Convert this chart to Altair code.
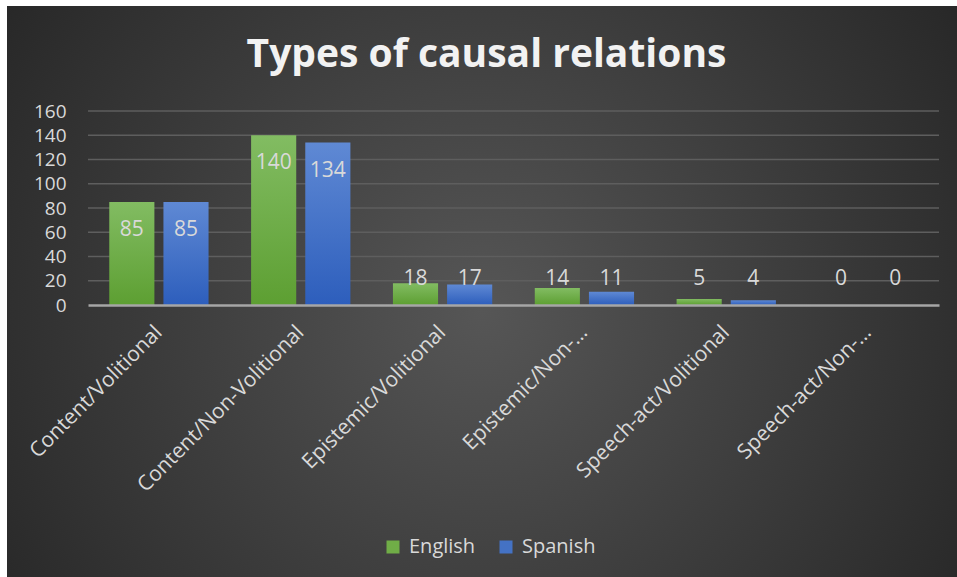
import altair as alt
import pandas as pd

categories = ["Content/Volitional", "Content/Non-Volitional", "Epistemic/Volitional",
              "Epistemic/Non-Volitional", "Speech-act/Volitional", "Speech-act/Non-Volitional"]
tick_labels = ["Content/Volitional", "Content/Non-Volitional", "Epistemic/Volitional",
               "Epistemic/Non-…", "Speech-act/Volitional", "Speech-act/Non-…"]
langs = ["English", "Spanish"]
english = [85, 140, 18, 14, 5, 0]
spanish = [85, 134, 17, 11, 4, 0]
y_ticks = [0, 20, 40, 60, 80, 100, 120, 140, 160]

rows = []
for c, e, s in zip(categories, english, spanish):
    rows.append({"category": c, "lang": "English", "value": e})
    rows.append({"category": c, "lang": "Spanish", "value": s})
df = pd.DataFrame(rows)

W, H = 851, 194
PAD = {"left": 88, "top": 111, "right": 18, "bottom": 272}
FONT = "Open Sans"
TXT = "#d9d9d9"

green_grad = {"gradient": "linear", "x1": 0, "y1": 0, "x2": 0, "y2": 1,
              "stops": [{"offset": 0, "color": "#82bc62"}, {"offset": 1, "color": "#5d9f32"}]}
blue_grad = {"gradient": "linear", "x1": 0, "y1": 0, "x2": 0, "y2": 1,
             "stops": [{"offset": 0, "color": "#5f89d4"}, {"offset": 1, "color": "#2d5ebc"}]}
bg_grad = {"gradient": "radial", "x1": 0.5, "y1": 0.52, "r1": 0, "x2": 0.5, "y2": 0.52, "r2": 0.62,
           "stops": [{"offset": 0, "color": "#565656"}, {"offset": 1, "color": "#262626"}]}

label_map = {c: t for c, t in zip(categories, tick_labels)}
label_expr = " : ".join([f"datum.label === '{c}' ? '{t}'" for c, t in label_map.items()]) + " : datum.label"

x_enc = alt.X("category:N", sort=categories, title=None,
              scale=alt.Scale(paddingInner=0.3, paddingOuter=0.15),
              axis=alt.Axis(labelAngle=-45, labelAlign="right", labelBaseline="middle",
                            labelFontSize=21, labelColor=TXT, labelFont=FONT, labelPadding=24,
                            labelExpr=label_expr, labelLimit=400, labelOverlap=False,
                            ticks=False, domainColor="#a6a6a6", domainWidth=2.5, zindex=1))
xoff = alt.XOffset("lang:N", sort=langs, scale=alt.Scale(paddingInner=0.167, paddingOuter=0))
y_scale = alt.Scale(domain=[0, 160], nice=False)
y_axis = alt.Axis(values=y_ticks, grid=False, ticks=False, domain=False, labelOverlap=False,
                  labelFontSize=19, labelColor=TXT, labelFont=FONT, labelPadding=22, zindex=1)

background = alt.Chart(alt.Data(values=[{}])).mark_rect(fill=bg_grad).encode(
    x=alt.value(-81), x2=alt.value(W + PAD["right"]),
    y=alt.value(-105), y2=alt.value(H + PAD["bottom"]),
)

grid = alt.Chart(pd.DataFrame({"tick": y_ticks[1:]})).mark_rule(color="#5e5e5e", strokeWidth=1.3).encode(
    y=alt.Y("tick:Q", scale=y_scale, title=None, axis=y_axis),
    x=alt.value(0), x2=alt.value(W),
)

bars = alt.Chart(df).mark_bar().encode(
    x=x_enc,
    xOffset=xoff,
    y=alt.Y("value:Q", scale=y_scale, title=None, axis=y_axis),
    fill=alt.Fill("lang:N", sort=langs,
                  scale=alt.Scale(domain=langs, range=["#70ad47", "#4472c4"]),
                  legend=alt.Legend(title=None, orient="none", legendX=295, legendY=426,
                                    direction="horizontal", symbolType="square", symbolSize=169,
                                    symbolStrokeWidth=0, labelFontSize=20, labelColor=TXT,
                                    labelFont=FONT, columnPadding=20, labelOffset=6),
                  condition=[{"test": "datum.lang === 'English'", "value": green_grad},
                             {"test": "datum.lang === 'Spanish'", "value": blue_grad}]),
)

labels = alt.Chart(df).transform_calculate(
    pos="max(datum.value - 23.1, 21.4)"
).mark_text(fontSize=21, font=FONT, color=TXT, baseline="middle", align="center").encode(
    x=alt.X("category:N", sort=categories),
    xOffset=xoff,
    y=alt.Y("pos:Q", scale=y_scale, title=None, axis=y_axis),
    text=alt.Text("value:Q"),
)

chart = alt.layer(background, grid, bars, labels).properties(
    width=W, height=H,
    title=alt.TitleParams("Types of causal relations", fontSize=39, fontWeight="bold",
                          color="#f2f2f2", font=FONT, anchor="middle", frame="group",
                          dx=-27, dy=143, offset=43, baseline="alphabetic"),
    autosize=alt.AutoSizeParams(type="none"),
    padding=PAD,
    background="#ffffff",
).configure_view(stroke=None)

chart.save("out.html", embed_options={"renderer": "svg", "actions": False})
